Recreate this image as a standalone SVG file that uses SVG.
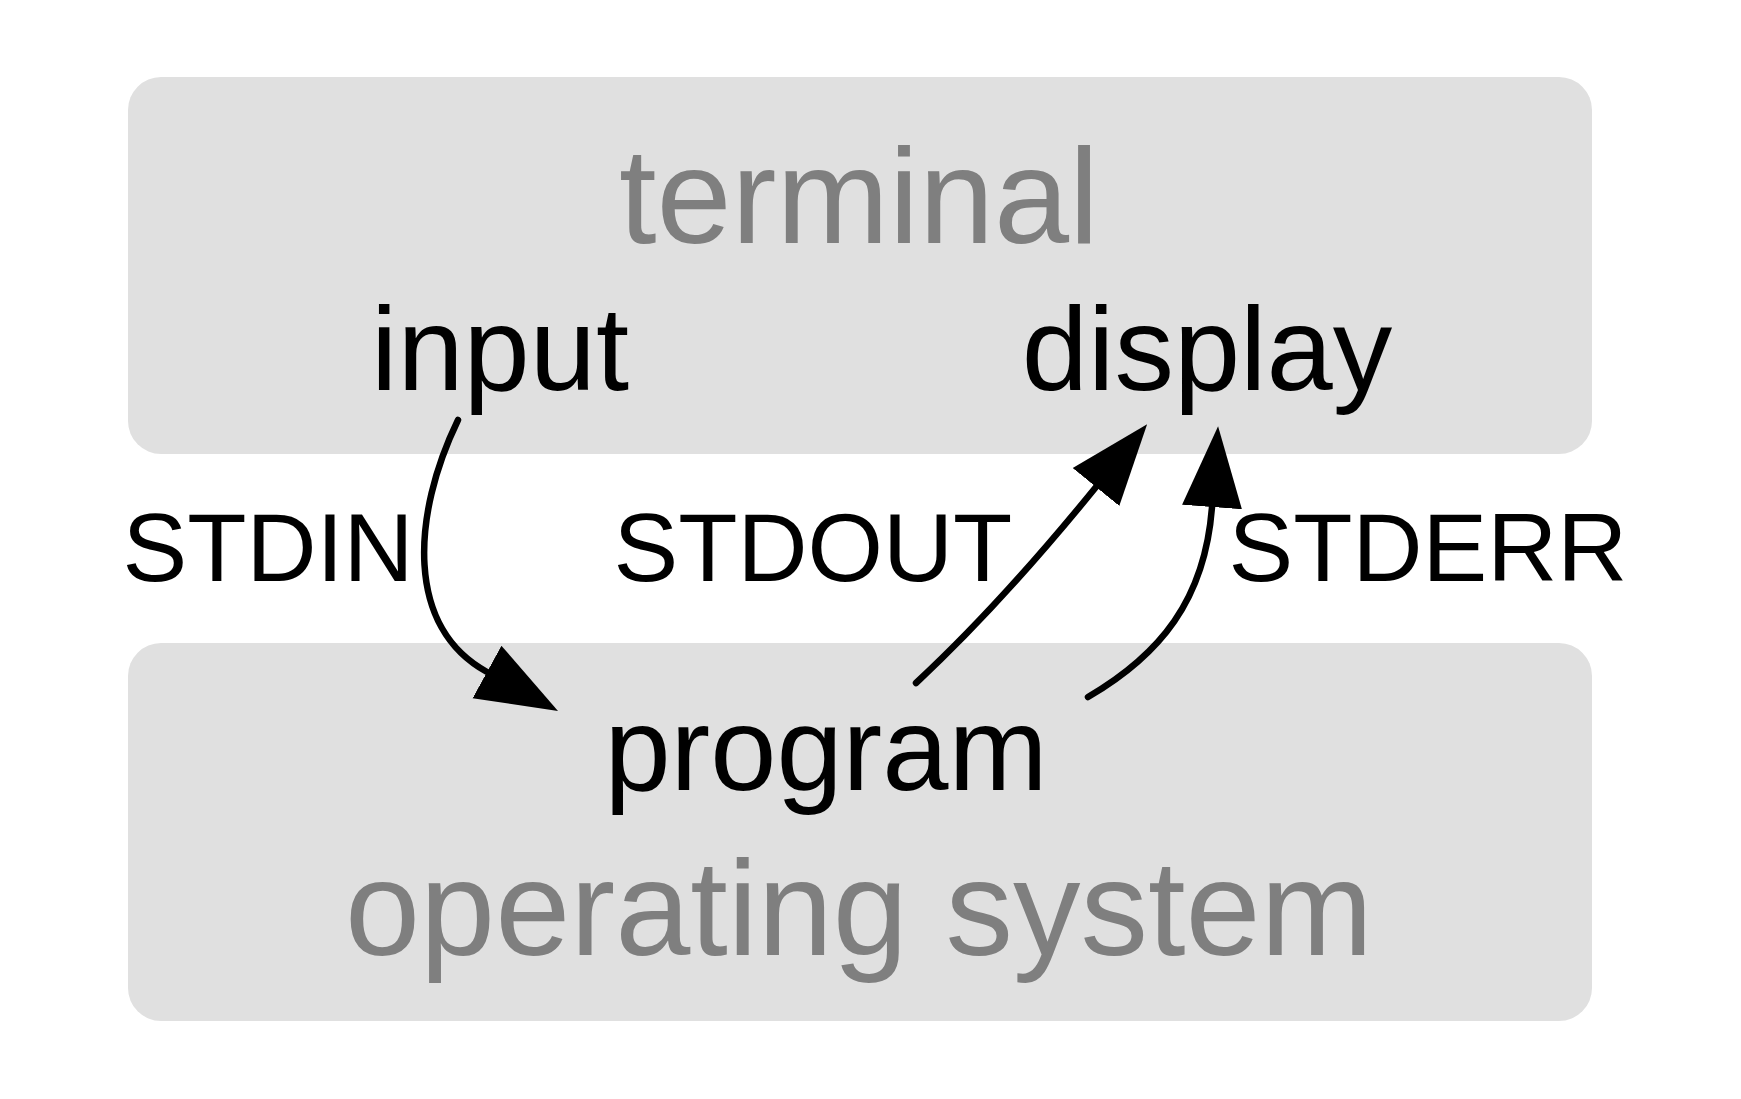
<svg xmlns="http://www.w3.org/2000/svg" width="1741" height="1099" viewBox="0 0 1741 1099">
  <style>
    .box { fill: #e0e0e0; }
    .title { font-family: "Liberation Sans", Arial, sans-serif; font-size: 135px; fill: #7f7f7f; text-anchor: middle; }
    .node { font-family: "Liberation Sans", Arial, sans-serif; font-size: 119px; fill: #000000; text-anchor: middle; }
    .label { font-family: "Liberation Sans", Arial, sans-serif; font-size: 97px; fill: #000000; text-anchor: middle; }
    .conn { fill: none; stroke: #000000; stroke-width: 6.5; stroke-linecap: round; }
  </style>
  <defs>
    <marker id="arrow" markerUnits="userSpaceOnUse" markerWidth="90" markerHeight="70" viewBox="0 -35 90 70" refX="0" refY="0" orient="auto">
      <path d="M0,-30 L81,0 L0,30 Z" fill="#000000"/>
    </marker>
  </defs>
  <rect width="1741" height="1099" fill="#ffffff"/>
  <g id="terminal">
    <rect class="box" x="128" y="77" width="1464" height="377" rx="33" ry="33"/>
    <text class="title" x="859" y="243">terminal</text>
  </g>
  <g id="operating-system">
    <rect class="box" x="128" y="643" width="1464" height="378" rx="33" ry="33"/>
    <text class="title" x="859" y="955">operating system</text>
  </g>
  <g id="input">
    <text class="node" x="500" y="390">input</text>
  </g>
  <g id="display">
    <text class="node" x="1207" y="390">display</text>
  </g>
  <g id="program">
    <text class="node" x="826" y="790">program</text>
  </g>
  <g id="connectors">
    <path class="conn" d="M458,420 C412,515 405,627 487,672" marker-end="url(#arrow)"/>
    <path class="conn" d="M916,683 Q1000,605 1096,487" marker-end="url(#arrow)"/>
    <path class="conn" d="M1088,697 C1160,655 1205,600 1212,507" marker-end="url(#arrow)"/>
    <text class="label" x="268" y="581">STDIN</text>
    <text class="label" x="813" y="581">STDOUT</text>
    <text class="label" x="1428" y="581">STDERR</text>
  </g>
</svg>
